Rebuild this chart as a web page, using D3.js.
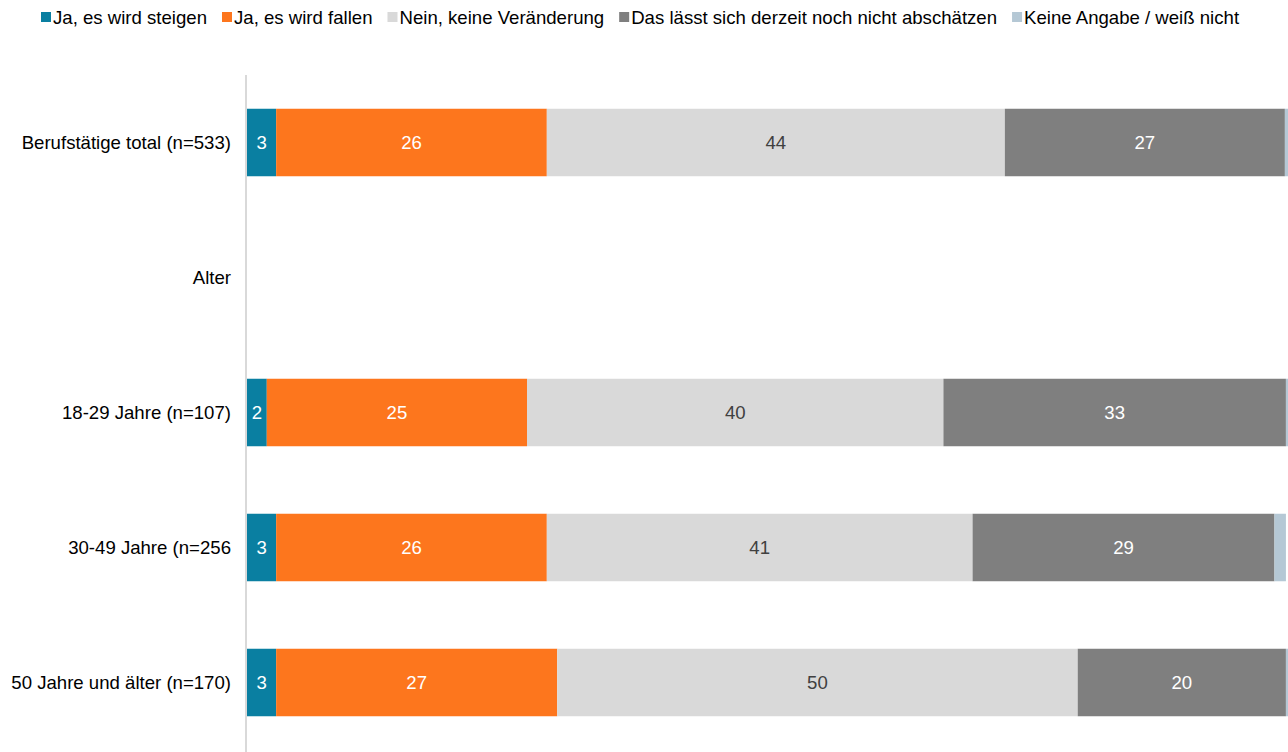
<!doctype html>
<html>
  <head>
    <meta charset="utf-8">
    <title>Stacked bars</title>
    <script src="https://d3js.org/d3.v7.min.js"></script>
    <style type="text/css">
      body { margin: 0; background-color: #ffffff; }
      text { font-family: "Liberation Sans", Arial, sans-serif; }
    </style>
  </head>
  <body>
    <script>
      // Width and height
      var w = 1288;
      var h = 752;
      var fontSize = "18.6px";

      // Data
      var categories = ["Berufstätige total (n=533)", "Alter", "18-29 Jahre (n=107)", "30-49 Jahre (n=256", "50 Jahre und älter (n=170)"];
      var seriesNames = ["Ja, es wird steigen", "Ja, es wird fallen", "Nein, keine Veränderung", "Das lässt sich derzeit noch nicht abschätzen", "Keine Angabe / weiß nicht"];
      var steigen     = [2.8, null, 1.9, 2.8, 2.8];
      var fallen      = [26.0, null, 25.0, 26.0, 27.0];
      var nein        = [44.0, null, 40.0, 40.9, 50.0];
      var abschaetzen = [26.9, null, 32.9, 29.0, 20.0];
      var keineAngabe = [0.3, null, 0.2, 1.1, 0.2];
      var colors = ["#0a7fa1", "#fd761d", "#d9d9d9", "#7f7f7f", "#b5c8d5"];
      var labelColors = ["#ffffff", "#ffffff", "#404040", "#ffffff", "#404040"];

      var series = [steigen, fallen, nein, abschaetzen, keineAngabe];

      // Build rows
      var rows = categories.map(function(c, i) {
        var row = { cat: c };
        seriesNames.forEach(function(s, j) { row[s] = series[j][i] || 0; });
        return row;
      });
      var stacked = d3.stack().keys(seriesNames)(rows);

      // Scales
      var x = d3.scaleLinear().domain([0, 100]).range([247, 1288]);
      var y = d3.scaleBand().domain(categories).range([75, 750])
        .paddingInner(0.5).paddingOuter(0.25);

      // Create SVG
      var svg = d3.select("body")
        .append("svg")
        .attr("width", w)
        .attr("height", h);

      // Bars
      var layers = svg.append("g").selectAll("g")
        .data(stacked)
        .enter()
        .append("g")
        .style("fill", function(d, i) { return colors[i]; });

      layers.selectAll("rect")
        .data(function(d) { return d; })
        .enter()
        .append("rect")
        .attr("x", function(d) { return x(d[0]); })
        .attr("y", function(d) { return y(d.data.cat); })
        .attr("width", function(d) { return x(d[1]) - x(d[0]); })
        .attr("height", y.bandwidth());

      // Value labels
      layers.each(function(s, i) {
        d3.select(this).selectAll("text")
          .data(s.filter(function(d) { return d[1] - d[0] >= 1.5; }))
          .enter()
          .append("text")
          .attr("x", function(d) { return (x(d[0]) + x(d[1])) / 2; })
          .attr("y", function(d) { return y(d.data.cat) + y.bandwidth() / 2; })
          .attr("dy", "0.35em")
          .attr("text-anchor", "middle")
          .style("font-size", fontSize)
          .style("fill", labelColors[i])
          .text(function(d) { return Math.round(d[1] - d[0]); });
      });

      // Axis line
      svg.append("line")
        .attr("x1", x(0) - 1).attr("x2", x(0) - 1)
        .attr("y1", 75).attr("y2", h)
        .style("stroke", "#d9d9d9")
        .style("stroke-width", 2);

      // Category labels
      svg.append("g").selectAll("text")
        .data(categories)
        .enter()
        .append("text")
        .attr("x", 231)
        .attr("y", function(d) { return y(d) + y.bandwidth() / 2; })
        .attr("dy", "0.35em")
        .attr("text-anchor", "end")
        .style("font-size", fontSize)
        .style("fill", "#000000")
        .text(function(d) { return d; });

      // Legend
      var legend = svg.append("g");
      var lx = 41;
      seriesNames.forEach(function(name, i) {
        legend.append("rect")
          .attr("x", lx).attr("y", 12)
          .attr("width", 10).attr("height", 10)
          .style("fill", colors[i]);
        var t = legend.append("text")
          .attr("x", lx + 12).attr("y", 24)
          .style("font-size", fontSize)
          .style("fill", "#000000")
          .text(name);
        lx += 12 + t.node().getComputedTextLength() + 15;
      });
    </script>
  </body>
</html>
